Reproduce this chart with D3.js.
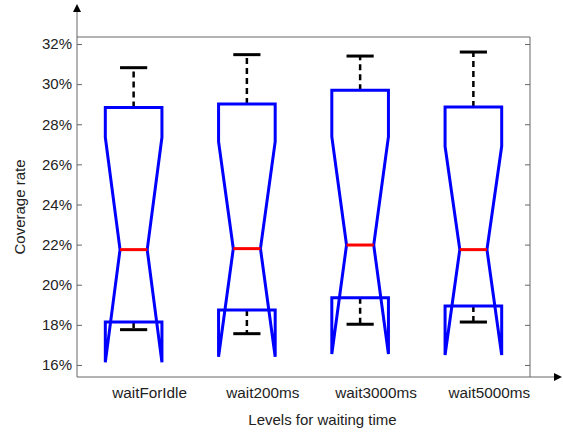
<!DOCTYPE html>
<html>
<head>
<meta charset="utf-8">
<script src="https://cdn.jsdelivr.net/npm/d3@7"></script>
<style>
body { margin: 0; background: #fff; }
svg { display: block; font-family: "Liberation Sans", Arial, sans-serif; }
</style>
</head>
<body>
<div class="chart"></div>
<script>
// data
var categories = ["waitForIdle", "wait200ms", "wait3000ms", "wait5000ms"];
var q3 = [28.84, 29.01, 29.69, 28.86];
var q1 = [18.14, 18.74, 19.35, 18.94];
var medians = [21.75, 21.8, 21.98, 21.75];
var notchHi = [27.35, 27.13, 27.38, 26.9];
var notchLo = [16.13, 16.41, 16.55, 16.5];
var whiskerHi = [30.82, 31.47, 31.4, 31.6];
var whiskerLo = [17.76, 17.56, 18.03, 18.14];
var yTicks = [16, 18, 20, 22, 24, 26, 28, 30, 32];

// canvas
var width = 563, height = 432;
var svg = d3.select(".chart").append("svg")
            .attr("width", width)
            .attr("height", height);
var plot = {left: 77, right: 530, top: 37, bottom: 377};

// scales
var xScale = d3.scaleBand().domain(categories).range([plot.left, plot.right]);
var yScale = d3.scaleLinear().domain([15.4, 32.35]).range([plot.bottom, plot.top]);
var bw = xScale.bandwidth();
var half = bw * 0.25, inner = bw * 0.12;

// axes
var yAxis = d3.axisLeft(yScale).tickValues(yTicks).tickSize(-5).tickPadding(5)
              .tickFormat(function(d) { return d + "%"; });
var ryAxis = d3.axisRight(yScale).tickValues(yTicks).tickSize(-5).tickFormat("");
var xAxis = d3.axisBottom(xScale).tickSize(0).tickPadding(10);

var gy = svg.append("g").attr("transform", "translate(" + plot.left + ",0)").call(yAxis);
var gry = svg.append("g").attr("transform", "translate(" + plot.right + ",0)").call(ryAxis);
var gx = svg.append("g").attr("transform", "translate(0," + plot.bottom + ")").call(xAxis);
[gy, gry, gx].forEach(function(g) {
    g.select(".domain").remove();
    g.selectAll("line").attr("stroke", "#666");
    g.selectAll("text").attr("font-size", "15px").attr("fill", "#222");
});
// category labels sit a little right of the boxes in the original
gx.selectAll("text").attr("dx", 16).attr("font-size", "15.3px");

// frame + arrows
var axisColor = "#666";
svg.append("line").attr("x1", plot.left).attr("x2", plot.right).attr("y1", plot.top).attr("y2", plot.top)
   .attr("stroke", axisColor);
svg.append("line").attr("x1", plot.right).attr("x2", plot.right).attr("y1", plot.top).attr("y2", plot.bottom)
   .attr("stroke", axisColor);
svg.append("line").attr("x1", plot.left).attr("x2", plot.left).attr("y1", plot.bottom).attr("y2", 11)
   .attr("stroke", axisColor);
svg.append("line").attr("x1", plot.left).attr("x2", 555).attr("y1", plot.bottom).attr("y2", plot.bottom)
   .attr("stroke", axisColor);
svg.append("path").attr("d", "M" + plot.left + ",4L" + (plot.left - 4) + ",12L" + (plot.left + 4) + ",12Z")
   .attr("fill", "#000");
svg.append("path").attr("d", "M562," + plot.bottom + "L554," + (plot.bottom - 4) + "L554," + (plot.bottom + 4) + "Z")
   .attr("fill", "#000");

// labels
svg.append("text").attr("x", (plot.left + plot.right) / 2 + 19).attr("y", 425)
   .attr("text-anchor", "middle").attr("font-size", "15px").attr("fill", "#222")
   .text("Levels for waiting time");
svg.append("text").attr("transform", "translate(25," + (plot.top + plot.bottom) / 2 + ") rotate(-90)")
   .attr("text-anchor", "middle").attr("font-size", "15px").attr("fill", "#222")
   .text("Coverage rate");

// boxes
var boxes = svg.selectAll(".box").data(categories).enter().append("g").attr("class", "box");

function cx(d) { return xScale(d) + bw / 2; }

// whiskers
boxes.append("line")
     .attr("x1", cx).attr("x2", cx)
     .attr("y1", function(d, i) { return yScale(q3[i]); })
     .attr("y2", function(d, i) { return yScale(whiskerHi[i]); })
     .attr("stroke", "#000").attr("stroke-width", 2.5).attr("stroke-dasharray", "6,4");
boxes.append("line")
     .attr("x1", cx).attr("x2", cx)
     .attr("y1", function(d, i) { return yScale(q1[i]); })
     .attr("y2", function(d, i) { return yScale(whiskerLo[i]); })
     .attr("stroke", "#000").attr("stroke-width", 2.5).attr("stroke-dasharray", "6,4");
boxes.append("line")
     .attr("x1", function(d) { return cx(d) - inner; }).attr("x2", function(d) { return cx(d) + inner; })
     .attr("y1", function(d, i) { return yScale(whiskerHi[i]); })
     .attr("y2", function(d, i) { return yScale(whiskerHi[i]); })
     .attr("stroke", "#000").attr("stroke-width", 3);
boxes.append("line")
     .attr("x1", function(d) { return cx(d) - inner; }).attr("x2", function(d) { return cx(d) + inner; })
     .attr("y1", function(d, i) { return yScale(whiskerLo[i]); })
     .attr("y2", function(d, i) { return yScale(whiskerLo[i]); })
     .attr("stroke", "#000").attr("stroke-width", 3);

// notched box outline
boxes.append("path")
     .attr("d", function(d, i) {
         var c = cx(d), l = c - half, r = c + half;
         var pts = [
             [l, q3[i]], [r, q3[i]], [r, notchHi[i]], [c + inner, medians[i]], [r, notchLo[i]],
             [r, q1[i]], [l, q1[i]], [l, notchLo[i]], [c - inner, medians[i]], [l, notchHi[i]]
         ];
         return "M" + pts.map(function(p) { return p[0] + "," + yScale(p[1]); }).join("L") + "Z";
     })
     .attr("fill", "none").attr("stroke", "#0000ff").attr("stroke-width", 3)
     .attr("stroke-linejoin", "miter");

// medians
boxes.append("line")
     .attr("x1", function(d) { return cx(d) - inner; }).attr("x2", function(d) { return cx(d) + inner; })
     .attr("y1", function(d, i) { return yScale(medians[i]); })
     .attr("y2", function(d, i) { return yScale(medians[i]); })
     .attr("stroke", "#ff0000").attr("stroke-width", 3);
</script>
</body>
</html>
